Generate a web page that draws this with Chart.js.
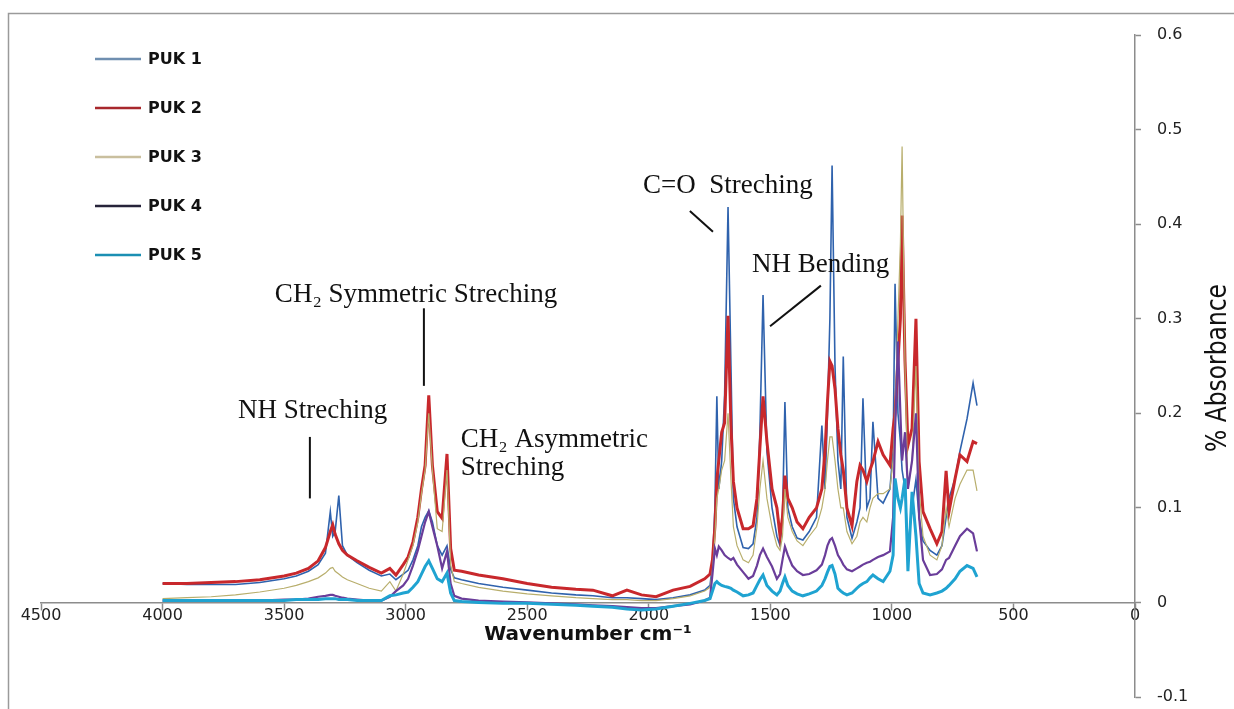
<!DOCTYPE html>
<html>
<head>
<meta charset="utf-8">
<script src="https://cdn.jsdelivr.net/npm/chart.js@4.4.0/dist/chart.umd.min.js"></script>
<style>
  html, body { margin: 0; padding: 0; background: #fff; }
  #wrap { width: 1234px; height: 709px; }
</style>
</head>
<body>
<div id="wrap"><canvas id="myChart" width="1234" height="709"></canvas></div>
<script>
// Wavenumber grid (cm-1)
const wavenumbers = [
  4000, 3900, 3800, 3700, 3600, 3500, 3450, 3400, 3360, 3330,
  3310, 3300, 3290, 3275, 3260, 3240, 3200, 3150, 3100, 3065,
  3040, 3010, 2990, 2970, 2950, 2935, 2920, 2905, 2890, 2870,
  2850, 2830, 2815, 2800, 2770, 2700, 2600, 2500, 2400, 2300,
  2230, 2150, 2090, 2030, 1970, 1900, 1830, 1770, 1748, 1738,
  1728, 1720, 1712, 1700, 1688, 1674, 1662, 1652, 1637, 1612,
  1590, 1571, 1555, 1543, 1530, 1514, 1493, 1473, 1460, 1450,
  1440, 1428, 1410, 1390, 1366, 1340, 1310, 1288, 1275, 1265,
  1255, 1246, 1234, 1222, 1210, 1200, 1185, 1164, 1144, 1131,
  1119, 1103, 1090, 1078, 1057, 1036, 1008, 995, 987, 975,
  965, 958, 946, 934, 917, 901, 888, 872, 843, 815,
  794, 777, 765, 740, 720, 691, 666, 650
];

const puk1 = [
  0.020, 0.019, 0.019, 0.019, 0.021, 0.025, 0.028, 0.033, 0.040, 0.052,
  0.096, 0.070, 0.075, 0.113, 0.060, 0.050, 0.042, 0.034, 0.028, 0.030,
  0.024, 0.030, 0.034, 0.045, 0.060, 0.080, 0.090, 0.097, 0.085, 0.060,
  0.050, 0.060, 0.035, 0.026, 0.024, 0.020, 0.016, 0.013, 0.010, 0.008,
  0.007, 0.005, 0.005, 0.004, 0.003, 0.005, 0.008, 0.013, 0.018, 0.040,
  0.100, 0.218, 0.120, 0.150, 0.220, 0.418, 0.250, 0.110, 0.080, 0.058,
  0.057, 0.062, 0.090, 0.180, 0.325, 0.160, 0.100, 0.070, 0.060, 0.090,
  0.212, 0.100, 0.080, 0.068, 0.066, 0.075, 0.090, 0.187, 0.120, 0.200,
  0.300, 0.462, 0.250, 0.150, 0.120, 0.260, 0.090, 0.068, 0.085, 0.100,
  0.216, 0.100, 0.110, 0.191, 0.110, 0.105, 0.120, 0.160, 0.337, 0.200,
  0.170, 0.140, 0.120, 0.060, 0.100, 0.130, 0.090, 0.065, 0.055, 0.050,
  0.060, 0.090, 0.110, 0.131, 0.160, 0.194, 0.232, 0.208
];

const puk2 = [
  0.020, 0.020, 0.021, 0.022, 0.024, 0.028, 0.031, 0.036, 0.044, 0.058,
  0.075, 0.082, 0.072, 0.062, 0.055, 0.050, 0.044, 0.037, 0.031, 0.036,
  0.029, 0.040, 0.048, 0.064, 0.090, 0.120, 0.145, 0.219, 0.145, 0.096,
  0.089, 0.157, 0.057, 0.034, 0.033, 0.029, 0.025, 0.020, 0.016, 0.014,
  0.013, 0.007, 0.013, 0.008, 0.006, 0.013, 0.017, 0.025, 0.030, 0.045,
  0.080, 0.130, 0.150, 0.180, 0.190, 0.303, 0.187, 0.128, 0.100, 0.078,
  0.078, 0.081, 0.110, 0.163, 0.218, 0.170, 0.120, 0.100, 0.070, 0.090,
  0.134, 0.110, 0.100, 0.085, 0.078, 0.090, 0.100, 0.120, 0.160, 0.212,
  0.255, 0.250, 0.226, 0.184, 0.156, 0.140, 0.100, 0.081, 0.128, 0.145,
  0.140, 0.128, 0.140, 0.149, 0.170, 0.156, 0.145, 0.184, 0.200, 0.255,
  0.300, 0.409, 0.255, 0.166, 0.184, 0.300, 0.149, 0.096, 0.078, 0.062,
  0.075, 0.139, 0.096, 0.131, 0.156, 0.149, 0.170, 0.168
];

const puk3 = [
  0.004, 0.005, 0.006, 0.008, 0.011, 0.015, 0.018, 0.022, 0.026, 0.031,
  0.036, 0.037, 0.033, 0.030, 0.027, 0.024, 0.020, 0.015, 0.012, 0.022,
  0.012, 0.030, 0.045, 0.060, 0.085, 0.115, 0.140, 0.200, 0.140, 0.078,
  0.075, 0.140, 0.040, 0.022, 0.020, 0.016, 0.012, 0.009, 0.007, 0.005,
  0.004, 0.003, 0.003, 0.002, 0.002, 0.004, 0.007, 0.012, 0.016, 0.035,
  0.070, 0.110, 0.120, 0.140, 0.150, 0.200, 0.130, 0.080, 0.060, 0.045,
  0.042, 0.050, 0.080, 0.120, 0.150, 0.110, 0.080, 0.060, 0.055, 0.070,
  0.120, 0.090, 0.075, 0.065, 0.060, 0.070, 0.080, 0.100, 0.120, 0.150,
  0.175, 0.175, 0.150, 0.120, 0.100, 0.100, 0.075, 0.062, 0.070, 0.085,
  0.090, 0.085, 0.100, 0.110, 0.115, 0.115, 0.120, 0.150, 0.200, 0.300,
  0.380, 0.482, 0.250, 0.120, 0.150, 0.250, 0.120, 0.070, 0.050, 0.045,
  0.060, 0.100, 0.080, 0.110, 0.125, 0.140, 0.140, 0.118
];

const puk4 = [
  0.002, 0.002, 0.002, 0.002, 0.002, 0.003, 0.003, 0.004, 0.006, 0.007,
  0.008, 0.008, 0.007, 0.006, 0.005, 0.004, 0.003, 0.002, 0.002, 0.006,
  0.012, 0.018, 0.025, 0.039, 0.055, 0.070, 0.085, 0.096, 0.080, 0.060,
  0.036, 0.054, 0.020, 0.007, 0.004, 0.002, 0.001, 0.000, -0.001, -0.002,
  -0.003, -0.004, -0.005, -0.006, -0.006, -0.004, -0.002, 0.002, 0.005, 0.030,
  0.057, 0.050, 0.059, 0.055, 0.050, 0.047, 0.045, 0.047, 0.040, 0.032,
  0.025, 0.028, 0.039, 0.050, 0.057, 0.048, 0.038, 0.025, 0.030, 0.045,
  0.059, 0.050, 0.039, 0.033, 0.029, 0.030, 0.034, 0.040, 0.050, 0.060,
  0.066, 0.068, 0.060, 0.050, 0.045, 0.040, 0.035, 0.033, 0.036, 0.038,
  0.040, 0.042, 0.043, 0.045, 0.048, 0.050, 0.054, 0.090, 0.180, 0.276,
  0.200, 0.150, 0.180, 0.120, 0.150, 0.200, 0.090, 0.045, 0.029, 0.030,
  0.035, 0.045, 0.047, 0.060, 0.070, 0.078, 0.073, 0.054
];

const puk5 = [
  0.002, 0.002, 0.002, 0.002, 0.002, 0.002, 0.003, 0.003, 0.003, 0.004,
  0.004, 0.004, 0.004, 0.003, 0.003, 0.003, 0.002, 0.002, 0.002, 0.007,
  0.008, 0.010, 0.011, 0.016, 0.022, 0.030, 0.038, 0.044, 0.036, 0.025,
  0.022, 0.031, 0.010, 0.002, 0.001, 0.000, -0.001, -0.001, -0.002, -0.003,
  -0.004, -0.005, -0.007, -0.008, -0.007, -0.004, -0.001, 0.002, 0.004, 0.012,
  0.020, 0.022, 0.020, 0.018, 0.017, 0.016, 0.015, 0.013, 0.011, 0.007,
  0.008, 0.010, 0.018, 0.024, 0.029, 0.018, 0.012, 0.008, 0.012, 0.020,
  0.027, 0.018, 0.012, 0.009, 0.007, 0.009, 0.012, 0.018, 0.025, 0.032,
  0.038, 0.039, 0.030, 0.015, 0.012, 0.010, 0.008, 0.010, 0.015, 0.018,
  0.020, 0.022, 0.026, 0.029, 0.025, 0.022, 0.033, 0.050, 0.131, 0.110,
  0.100, 0.110, 0.131, 0.033, 0.117, 0.070, 0.020, 0.010, 0.008, 0.010,
  0.012, 0.015, 0.018, 0.025, 0.033, 0.039, 0.036, 0.027
];

const seriesNames = ['PUK 1', 'PUK 2', 'PUK 3', 'PUK 4', 'PUK 5'];
const seriesValues = [puk1, puk2, puk3, puk4, puk5];
const xTicks = [4500, 4000, 3500, 3000, 2500, 2000, 1500, 1000, 500, 0];
const yTicks = [0.6, 0.5, 0.4, 0.3, 0.2, 0.1, 0, -0.1];

// Band labels, placed in data units (wavenumber, absorbance)
const bandLabels = [
  { text: 'NH Streching', wn: 3690, ab: 0.202 },
  { text: 'CH\u2082 Symmetric Streching', wn: 3538, ab: 0.325 },
  { text: 'CH\u2082 Asymmetric', wn: 2773, ab: 0.172 },
  { text: 'Streching', wn: 2773, ab: 0.142 },
  { text: 'C=O  Streching', wn: 2024, ab: 0.440 },
  { text: 'NH Bending', wn: 1575, ab: 0.357 }
];
const leaders = [
  [3394, 0.175, 3394, 0.110],
  [2925, 0.311, 2925, 0.229],
  [1831, 0.414, 1736, 0.392],
  [1292, 0.335, 1501, 0.292]
];

const lineColors = ['#2f62ad', '#c8282c', '#b8ae6c', '#6a3d9a', '#1fa3d1'];
const legendColors = ['#6f8fb0', '#a8282c', '#c9bf9e', '#26233a', '#1b8fb3'];
const lineWidths = [1.6, 3, 1.2, 2.2, 3];
const drawOrder = [5, 4, 3, 2, 1];
const axisColor = '#8c8c8c';

const decorations = {
  id: 'decorations',
  beforeDraw(chart) {
    const c = chart.ctx;
    c.save();
    c.fillStyle = '#fff';
    c.fillRect(0, 0, chart.width, chart.height);
    c.strokeStyle = '#9a9a9a';
    c.lineWidth = 1.5;
    c.beginPath();
    c.moveTo(8.5, chart.height);
    c.lineTo(8.5, 13.5);
    c.lineTo(chart.width, 13.5);
    c.stroke();
    c.restore();
  },
  afterDraw(chart) {
    const c = chart.ctx;
    const xs = chart.scales.x, ys = chart.scales.y;
    c.save();

    // band labels + leader lines
    c.fillStyle = '#111';
    c.font = "27px 'Liberation Serif', 'Times New Roman', serif";
    c.textAlign = 'left';
    c.textBaseline = 'middle';
    bandLabels.forEach(b => c.fillText(b.text, xs.getPixelForValue(b.wn), ys.getPixelForValue(b.ab)));
    c.strokeStyle = '#111';
    c.lineWidth = 2;
    leaders.forEach(l => {
      c.beginPath();
      c.moveTo(xs.getPixelForValue(l[0]), ys.getPixelForValue(l[1]));
      c.lineTo(xs.getPixelForValue(l[2]), ys.getPixelForValue(l[3]));
      c.stroke();
    });

    // legend
    c.font = "bold 16px 'DejaVu Sans', sans-serif";
    seriesNames.forEach((name, i) => {
      const y = 59 + i * 49;
      c.strokeStyle = legendColors[i];
      c.lineWidth = 2.5;
      c.beginPath();
      c.moveTo(95, y);
      c.lineTo(141, y);
      c.stroke();
      c.fillStyle = '#111';
      c.fillText(name, 148, y + 1);
    });

    // y axis title, read bottom to top
    c.font = "28px 'Liberation Sans Narrow', 'DejaVu Sans Condensed', 'Liberation Sans', sans-serif";
    const title = '% Absorbance';
    const w = c.measureText(title).width;
    c.translate(1219, 368);
    c.rotate(-Math.PI / 2);
    c.scale(168 / w, 1);
    c.textAlign = 'center';
    c.fillStyle = '#111';
    c.fillText(title, 0, 0);
    c.restore();
  }
};

const ctx = document.getElementById('myChart').getContext('2d');

const myChart = new Chart(ctx, {
  type: 'line',
  data: {
    datasets: seriesValues.map((vals, i) => ({
      label: seriesNames[i],
      data: wavenumbers.map((wn, j) => ({ x: wn, y: vals[j] })),
      borderColor: lineColors[i],
      borderWidth: lineWidths[i],
      pointRadius: 0,
      tension: 0,
      fill: false,
      order: drawOrder[i]
    }))
  },
  options: {
    responsive: false,
    animation: false,
    devicePixelRatio: 1,
    layout: { padding: { left: 41, top: 35, right: 0, bottom: 12 } },
    plugins: { legend: { display: false }, tooltip: { enabled: false } },
    scales: {
      x: {
        type: 'linear',
        min: 0,
        max: 4500,
        reverse: true,
        position: { y: 0 },
        afterBuildTicks: s => { s.ticks = xTicks.map(v => ({ value: v })); },
        grid: { drawOnChartArea: false, drawTicks: true, tickLength: 7, color: axisColor, tickWidth: 1.5 },
        border: { display: true, color: axisColor, width: 1.5 },
        ticks: {
          color: '#222',
          font: { family: 'DejaVu Sans', size: 16 },
          padding: -3,
          maxRotation: 0,
          autoSkip: false,
          callback: v => String(v)
        },
        title: {
          display: true,
          text: 'Wavenumber cm\u207B\u00B9',
          color: '#111',
          font: { family: 'DejaVu Sans', size: 20, weight: 'bold' },
          padding: { top: 0, bottom: 0 }
        }
      },
      y: {
        type: 'linear',
        min: -0.1,
        max: 0.6,
        position: 'right',
        afterBuildTicks: s => { s.ticks = yTicks.map(v => ({ value: v })); },
        afterFit: s => { s.width = 99; s.paddingTop = 0; s.paddingBottom = 0; },
        grid: { drawOnChartArea: false, drawTicks: true, tickLength: 6, color: axisColor, tickWidth: 1.5 },
        border: { display: true, color: axisColor, width: 1.5 },
        ticks: {
          color: '#222',
          font: { family: 'DejaVu Sans', size: 16 },
          padding: 16,
          callback: v => String(Math.round(v * 10) / 10)
        }
      }
    }
  },
  plugins: [decorations]
});
</script>
</body>
</html>
